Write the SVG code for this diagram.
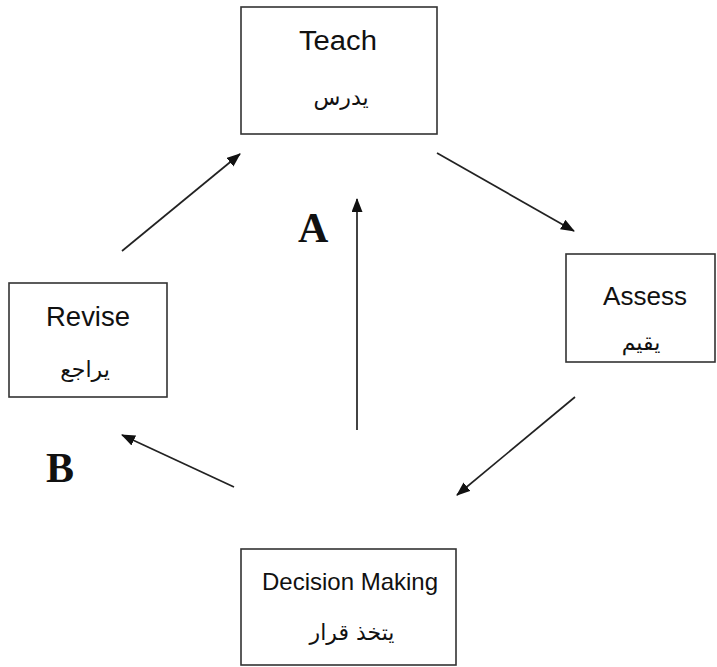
<svg xmlns="http://www.w3.org/2000/svg" width="717" height="667" viewBox="0 0 717 667">
<style>
.box{fill:#fff;stroke:#333;stroke-width:1.6}
.en{font-family:"Liberation Sans",Arial,sans-serif;fill:#111;text-anchor:middle}
.ar{font-family:"DejaVu Sans","Noto Sans",sans-serif;fill:#111;text-anchor:middle;font-size:22px}
.lbl{font-family:"Liberation Serif","Times New Roman",serif;font-weight:bold;font-size:42px;fill:#111}
.arr{stroke:#222;stroke-width:1.7;fill:none;marker-end:url(#ah)}
</style>
<defs>
<marker id="ah" markerUnits="userSpaceOnUse" markerWidth="14" markerHeight="12" refX="13" refY="5.5" orient="auto">
<path d="M0,0 L14,5.5 L0,11 z" fill="#111"/>
</marker>
</defs>
<rect width="717" height="667" fill="#fff"/>
<g id="teach">
<rect class="box" x="241" y="7" width="196" height="127"/>
<text class="en" x="338" y="50" font-size="27" textLength="78" lengthAdjust="spacingAndGlyphs">Teach</text>
<text class="ar" x="341" y="105">يدرس</text>
</g>
<g id="assess">
<rect class="box" x="566" y="254" width="149" height="108"/>
<text class="en" x="645" y="305" font-size="26">Assess</text>
<text class="ar" x="641" y="350">يقيم</text>
</g>
<g id="decision">
<rect class="box" x="241" y="549" width="215" height="116"/>
<text class="en" x="350" y="590" font-size="24">Decision Making</text>
<text class="ar" x="352" y="640">يتخذ قرار</text>
</g>
<g id="revise">
<rect class="box" x="9" y="283" width="158" height="114"/>
<text class="en" x="88" y="326" font-size="27" textLength="84" lengthAdjust="spacingAndGlyphs">Revise</text>
<text class="ar" x="85" y="377">يراجع</text>
</g>
<g id="labels">
<text class="lbl" x="298" y="242">A</text>
<text class="lbl" x="46" y="482">B</text>
</g>
<g id="connectors">
<line class="arr" x1="437" y1="153" x2="574" y2="231"/>
<line class="arr" x1="575" y1="397" x2="457" y2="495"/>
<line class="arr" x1="234" y1="487" x2="122" y2="435"/>
<line class="arr" x1="122" y1="251" x2="240" y2="154"/>
<line class="arr" x1="357" y1="430" x2="357" y2="199"/>
</g>
</svg>
